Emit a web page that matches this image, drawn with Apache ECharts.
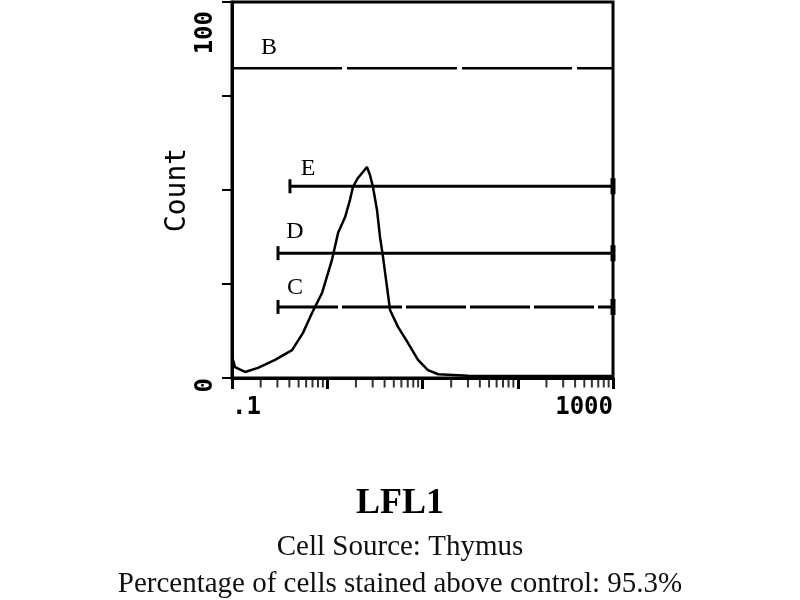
<!DOCTYPE html>
<html>
<head>
<meta charset="utf-8">
<script src="https://cdn.jsdelivr.net/npm/echarts@6/dist/echarts.min.js"></script>
<style>
  html, body { margin: 0; padding: 0; background: #fff; }
  #container { width: 800px; height: 600px; }
</style>
</head>
<body>
<div id="container"></div>
<script>
// histogram trace, x = LFL1 intensity (log), y = count
const histX = [0.1025, 0.1075, 0.137, 0.1875, 0.283, 0.427, 0.556, 0.692, 0.881, 1.12, 1.3, 1.54,
  1.73, 1.86, 2.1, 2.37, 2.61, 2.81, 3.02, 3.33, 3.58, 3.85, 4.24, 4.56, 5.53, 7.05, 8.97, 11.4,
  14.6, 30, 100, 1000];
const histY = [4.8, 2.9, 1.6, 2.7, 4.8, 7.4, 12.0, 17.3, 22.6, 31.4, 38.6, 42.8,
  47.3, 50.8, 53.2, 54.8, 56.1, 54.0, 50.8, 44.7, 37.5, 32.2, 24.2, 18.1, 13.6, 9.3, 4.8, 2.1,
  1.0, 0.6, 0.5, 0.5];

// marker gates
const gateNames = ["B", "C", "D", "E"];
const gateStart = [0.1, 0.304, 0.304, 0.406];
const gateEnd = [1000, 1000, 1000, 1000];
const gateLevel = [82.4, 18.9, 33.2, 51];

// axis ticks and labels
const xMinorTicks = [0.2, 0.3, 0.4, 0.5, 0.6, 0.7, 0.8, 0.9,
  2, 3, 4, 5, 6, 7, 8, 9,
  20, 30, 40, 50, 60, 70, 80, 90,
  200, 300, 400, 500, 600, 700, 800, 900];
const xTickLabels = [[0.1, ".1"], [1000, "1000"]];
const yTickLabels = [[0, "{z|0}"], [100, "{t|100}"]];

const gateLabelOffset = {
  B: [37, -2],
  C: [17, 5],
  D: [17, 3],
  E: [18, 6]
};

function findLabel(list, v) {
  for (const [val, txt] of list) {
    if (Math.abs(v - val) < val * 1e-6 + 1e-9) return txt;
  }
  return "";
}

const monoFont = "DejaVu Sans Mono";
const serifFont = "Liberation Serif";

const gateSeries = gateNames.map(function (name, i) {
  const isB = name === "B";
  return {
    type: "line",
    name: "gate " + name,
    silent: true,
    animation: false,
    showSymbol: true,
    lineStyle: { color: "#000", width: isB ? 2.5 : 3, type: isB ? [110, 5] : (name === "C" ? [60, 4] : "solid") },
    itemStyle: { color: "#000" },
    data: [
      {
        value: [gateStart[i], gateLevel[i]],
        symbol: "rect",
        symbolSize: isB ? [1, 2] : [3, 14],
        label: {
          show: true,
          formatter: name,
          position: "top",
          offset: gateLabelOffset[name],
          color: "#000",
          fontFamily: serifFont,
          fontSize: 24
        }
      },
      {
        value: [gateEnd[i], gateLevel[i]],
        symbol: "rect",
        symbolSize: isB ? [1, 2] : [5, 16]
      }
    ]
  };
});

const option = {
  backgroundColor: "#fff",
  animation: false,
  title: [
    {
      text: "LFL1",
      left: "center",
      top: 481,
      textStyle: { fontFamily: serifFont, fontWeight: "bold", fontSize: 36, color: "#000" }
    },
    {
      text: "Cell Source: Thymus",
      left: "center",
      top: 528,
      textStyle: { fontFamily: serifFont, fontWeight: "normal", fontSize: 29, color: "#111" }
    },
    {
      text: "Percentage of cells stained above control: 95.3%",
      left: "center",
      top: 565,
      textStyle: { fontFamily: serifFont, fontWeight: "normal", fontSize: 29, color: "#111" }
    }
  ],
  grid: {
    left: 232,
    right: 187,
    top: 2,
    bottom: 222,
    show: true,
    borderColor: "#000",
    borderWidth: 3,
    backgroundColor: "transparent"
  },
  xAxis: {
    type: "log",
    logBase: 10,
    min: 0.1,
    max: 1000,
    splitLine: { show: false },
    axisLine: { lineStyle: { color: "#000", width: 3 } },
    axisTick: { show: true, length: 11, lineStyle: { color: "#000", width: 3 } },
    axisLabel: {
      margin: 18,
      color: "#000",
      fontFamily: monoFont,
      fontWeight: "bold",
      fontSize: 24,
      alignMinLabel: "left",
      alignMaxLabel: "right",
      showMinLabel: true,
      showMaxLabel: true,
      formatter: function (v) { return findLabel(xTickLabels, v); }
    }
  },
  yAxis: {
    type: "value",
    min: 0,
    max: 100,
    interval: 25,
    name: "Count",
    nameLocation: "middle",
    nameRotate: 90,
    nameGap: 40,
    nameTextStyle: { color: "#000", fontFamily: monoFont, fontSize: 28 },
    splitLine: { show: false },
    axisLine: { show: true, lineStyle: { color: "#000", width: 3 } },
    axisTick: { show: true, length: 10, lineStyle: { color: "#000", width: 2 } },
    axisLabel: {
      rotate: 90,
      align: "right",
      margin: 14,
      color: "#000",
      fontFamily: monoFont,
      fontWeight: "bold",
      fontSize: 24,
      rich: {
        t: { fontFamily: monoFont, fontWeight: "bold", fontSize: 24, color: "#000", padding: [0, 9, 0, 0] },
        z: { fontFamily: monoFont, fontWeight: "bold", fontSize: 24, color: "#000" }
      },
      formatter: function (v) { return findLabel(yTickLabels, v); }
    }
  },
  series: [
    {
      type: "scatter",
      name: "minor ticks",
      silent: true,
      clip: false,
      symbol: "rect",
      symbolSize: [2, 9],
      symbolOffset: [0, 5],
      itemStyle: { color: "#000" },
      data: xMinorTicks.map(function (v) { return [v, 0]; })
    },
    {
      type: "line",
      name: "LFL1",
      silent: true,
      showSymbol: false,
      smooth: false,
      lineStyle: { color: "#000", width: 2.5 },
      data: histX.map(function (x, i) { return [x, histY[i]]; })
    }
  ].concat(gateSeries)
};

const myChart = echarts.init(document.getElementById("container"), null, { renderer: "canvas" });
myChart.setOption(option);
window.addEventListener("resize", myChart.resize);
</script>
</body>
</html>
